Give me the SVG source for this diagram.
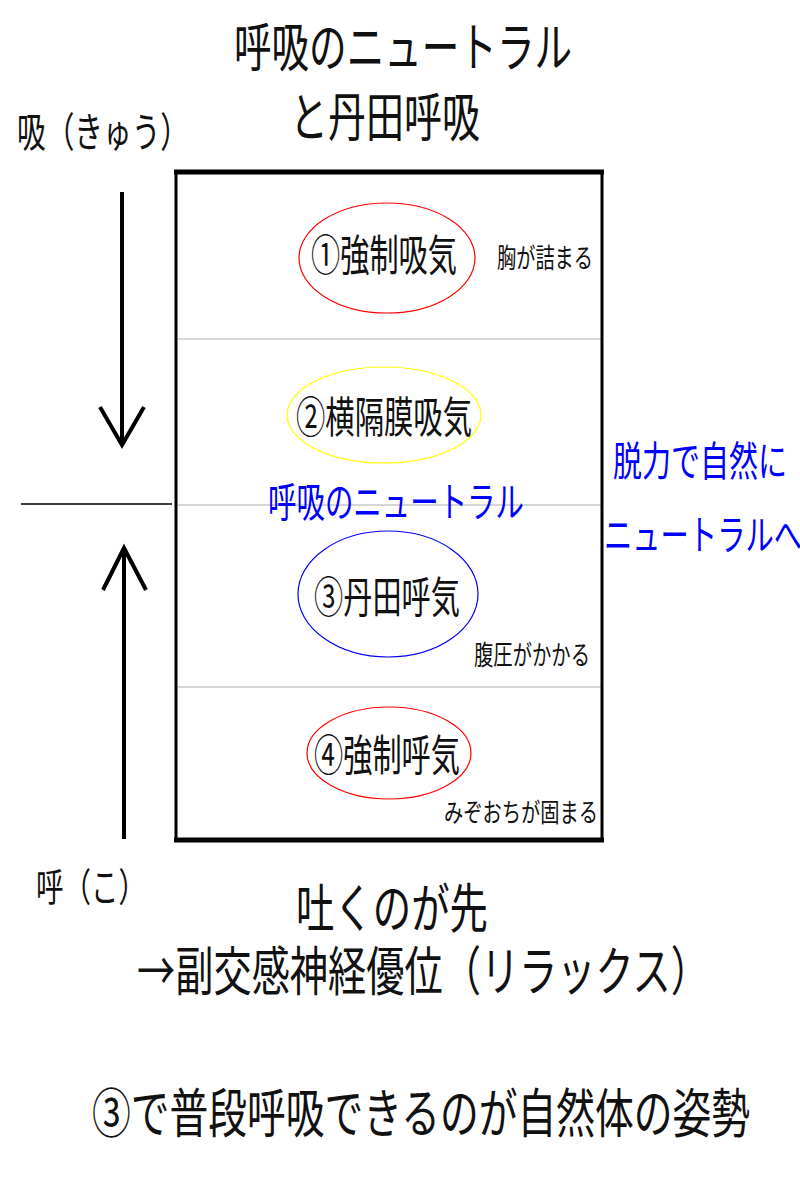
<svg xmlns="http://www.w3.org/2000/svg" width="800" height="1200" viewBox="0 0 800 1200">
<style>
  text { font-family: "Noto Sans CJK JP", "Noto Sans CJK SC", sans-serif; fill: #111; }
  .blue { fill: #0000ff; }
  .sep { stroke: #c8c8c8; stroke-width: 1.5; }
  .frame { stroke: #000; fill: none; }
  .arrow { stroke: #000; stroke-width: 4; fill: none; stroke-linecap: butt; stroke-linejoin: miter; }
  .oval { fill: none; stroke-width: 1.2; }
</style>
<rect x="0" y="0" width="800" height="1200" fill="#fff"/>

<g id="title">
  <text x="234" y="67" font-size="53" textLength="338" lengthAdjust="spacingAndGlyphs">呼吸のニュートラル</text>
  <text x="290" y="137" font-size="53" textLength="190" lengthAdjust="spacingAndGlyphs">と丹田呼吸</text>
</g>

<g id="frame">
  <line class="sep" x1="177" y1="339" x2="601" y2="339"/>
  <line class="sep" x1="177" y1="505" x2="601" y2="505"/>
  <line class="sep" x1="177" y1="687" x2="601" y2="687"/>
  <line class="frame" x1="174" y1="172" x2="604" y2="172" stroke-width="5"/>
  <line class="frame" x1="174" y1="840" x2="604" y2="840" stroke-width="5"/>
  <line class="frame" x1="176" y1="170" x2="176" y2="842" stroke-width="3"/>
  <line class="frame" x1="602" y1="170" x2="602" y2="842" stroke-width="3"/>
  <line x1="21" y1="504" x2="172" y2="504" stroke="#000" stroke-width="1.5"/>
</g>

<g id="connectors">
  <line class="arrow" x1="122" y1="192" x2="122" y2="443"/>
  <polyline class="arrow" points="100,407 122,445 144,407"/>
  <line class="arrow" x1="124" y1="839" x2="124" y2="550"/>
  <polyline class="arrow" points="103,590 124,548 146,590"/>
</g>

<g id="label-inhale">
  <text x="17" y="147" font-size="41" textLength="172" lengthAdjust="spacingAndGlyphs">吸（きゅう）</text>
</g>
<g id="label-exhale">
  <text x="36" y="901" font-size="39" textLength="110" lengthAdjust="spacingAndGlyphs">呼（こ）</text>
</g>

<g id="node1">
  <ellipse class="oval" cx="387" cy="258" rx="88" ry="55" stroke="#ff0000"/>
  <text x="311" y="271" font-size="43" textLength="146" lengthAdjust="spacingAndGlyphs">①強制吸気</text>
  <text x="497" y="268" font-size="27" textLength="96" lengthAdjust="spacingAndGlyphs">胸が詰まる</text>
</g>

<g id="node2">
  <ellipse class="oval" cx="384" cy="415" rx="97" ry="48" stroke="#ffff00"/>
  <text x="296" y="433" font-size="43" textLength="176" lengthAdjust="spacingAndGlyphs">②横隔膜吸気</text>
</g>

<g id="neutral">
  <text class="blue" x="268" y="517" font-size="41" textLength="256" lengthAdjust="spacingAndGlyphs">呼吸のニュートラル</text>
  <text class="blue" x="613" y="476" font-size="41" textLength="174" lengthAdjust="spacingAndGlyphs">脱力で自然に</text>
  <text class="blue" x="604" y="550" font-size="41" textLength="198" lengthAdjust="spacingAndGlyphs">ニュートラルへ</text>
</g>

<g id="node3">
  <ellipse class="oval" cx="388" cy="594" rx="90" ry="63" stroke="#0000ff"/>
  <text x="314" y="613" font-size="43" textLength="146" lengthAdjust="spacingAndGlyphs">③丹田呼気</text>
  <text x="474" y="665" font-size="27" textLength="116" lengthAdjust="spacingAndGlyphs">腹圧がかかる</text>
</g>

<g id="node4">
  <ellipse class="oval" cx="389" cy="753" rx="82" ry="46" stroke="#ff0000"/>
  <text x="314" y="771" font-size="43" textLength="146" lengthAdjust="spacingAndGlyphs">④強制呼気</text>
  <text x="444" y="822" font-size="26" textLength="154" lengthAdjust="spacingAndGlyphs">みぞおちが固まる</text>
</g>

<g id="notes">
  <text x="296" y="928" font-size="53" textLength="192" lengthAdjust="spacingAndGlyphs">吐くのが先</text>
  <text x="137" y="991" font-size="53" textLength="572" lengthAdjust="spacingAndGlyphs">→副交感神経優位（リラックス）</text>
  <text x="92" y="1133" font-size="53" textLength="658" lengthAdjust="spacingAndGlyphs">③で普段呼吸できるのが自然体の姿勢</text>
</g>
</svg>
